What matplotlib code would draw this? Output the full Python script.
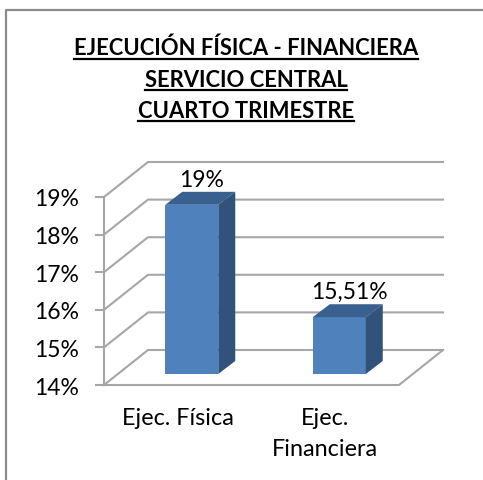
import matplotlib
matplotlib.use('Agg')
from matplotlib import pyplot as plt
from matplotlib.patches import Polygon

categories = ['Ejec. Física', 'Ejec.\nFinanciera']
values = [18.5, 15.51]
value_labels = ['19%', '15,51%']
ticks = [14, 15, 16, 17, 18, 19]
tick_labels = ['14%', '15%', '16%', '17%', '18%', '19%']
title_lines = ['EJECUCIÓN FÍSICA - FINANCIERA', 'SERVICIO CENTRAL', 'CUARTO TRIMESTRE']

W, H = 483, 480
plt.rcParams['font.family'] = ['Lato', 'DejaVu Sans']

fig = plt.figure(figsize=(W / 100, H / 100), dpi=100)
ax = fig.add_axes([0, 0, 1, 1])

# data scale: front wall x=104..399px is two category slots, 37.6px per percent
slot = 147.5
unit = 37.6
x0 = -0.5 - 104 / slot
ax.set_xlim(x0, x0 + W / slot)
y_bottom = 14 - (H - 385) / unit
ax.set_ylim(y_bottom, y_bottom + H / unit)
ax.axis('off')

# depth of the floor and of a bar, in data units
floor_dx, floor_dy = 44 / slot, 35 / unit
bar_dx, bar_dy = 17 / slot, 13 / unit
bar_w = 53 / slot
# bar front sits this far in from the front edge of the floor
off_dx, off_dy = 14 / slot, 11 / unit

grid = '#a6a6a6'
for t in ticks:
    ax.plot([-0.5, -0.5 + floor_dx, 1.5 + floor_dx],
            [t, t + floor_dy, t + floor_dy], color=grid, lw=1.5, zorder=1)
    ax.plot([-0.5 - 8 / slot, -0.5], [t, t], color=grid, lw=1.5, zorder=1)
    ax.text(-0.5 - 25 / slot, t - 3 / unit, tick_labels[ticks.index(t)], ha='right', va='center',
            fontsize=16.5, color='black')
ax.plot([-0.5, -0.5], [14, 19], color=grid, lw=1.5, zorder=1)
ax.plot([-0.5, 1.5, 1.5 + floor_dx], [14, 14, 14 + floor_dy], color=grid, lw=1.5, zorder=1)

for i, v in enumerate(values):
    left = i - bar_w / 2 + off_dx
    right = left + bar_w
    base = 14 + off_dy
    top = v + off_dy
    ax.add_patch(Polygon([(left, base), (right, base), (right, top), (left, top)],
                         fc='#4f81bd', ec='none', zorder=3))
    ax.add_patch(Polygon([(left, top), (right, top), (right + bar_dx, top + bar_dy),
                          (left + bar_dx, top + bar_dy)], fc='#3a6090', ec='none', zorder=3))
    ax.add_patch(Polygon([(right, base), (right + bar_dx, base + bar_dy),
                          (right + bar_dx, top + bar_dy), (right, top)],
                         fc='#31527a', ec='none', zorder=3))
    ax.text(i + off_dx + 10 / slot, top + bar_dy + 5 / unit, value_labels[i], ha='center',
            va='baseline', fontsize=16.5, color='black', zorder=4)
    ax.text(i, 14 - 23 / unit, categories[i], ha='center', va='top',
            fontsize=16.8, color='black', linespacing=1.6)

# chart frame, left and top sides only reach the picture edge
ax.plot([6 / W, 6 / W, 1], [0, 1 - 10 / H, 1 - 10 / H], color='#8c8c8c', lw=1.6,
        transform=ax.transAxes, clip_on=False, zorder=0)

# title with manual underline
fig.canvas.draw()
rend = fig.canvas.get_renderer()
for line, base_px, ul_px in zip(title_lines, [55, 87, 118], [58.5, 90, 121]):
    t = fig.text(246 / W, 1 - base_px / H, line, ha='center', va='baseline',
                 fontsize=15.8, fontweight='bold', color='black')
    bb = t.get_window_extent(rend)
    fig.add_artist(plt.Line2D([bb.x0 / W, bb.x1 / W], [1 - ul_px / H, 1 - ul_px / H],
                              color='black', lw=1.6, transform=fig.transFigure))

fig.savefig('out.png', dpi=100, facecolor='white')
